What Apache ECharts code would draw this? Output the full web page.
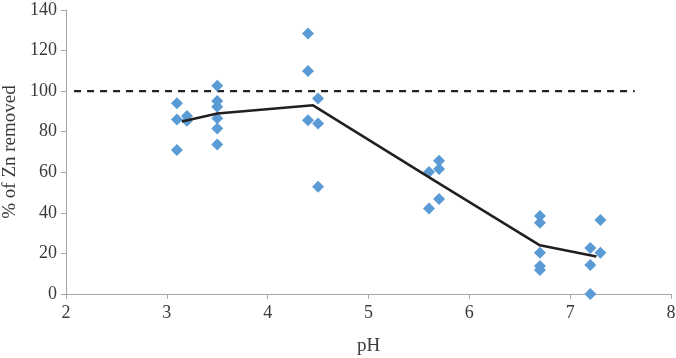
<!DOCTYPE html>
<html>
<head>
<meta charset="utf-8">
<script src="https://cdn.jsdelivr.net/npm/echarts@6/dist/echarts.min.js"></script>
<style>
  html, body { margin: 0; padding: 0; background: #fff; }
  #chart { width: 676px; height: 358px; }
</style>
</head>
<body>
<div id="chart"></div>
<script>
// measured points: [pH, % of Zn removed]
const measured = [
  [3.1, 94], [3.1, 86], [3.1, 71],
  [3.2, 87.7], [3.2, 85.4],
  [3.5, 102.6], [3.5, 95.2], [3.5, 92.3], [3.5, 86.6], [3.5, 81.6], [3.5, 73.7],
  [4.4, 128.4], [4.4, 109.9], [4.4, 85.7],
  [4.5, 96.4], [4.5, 84.1], [4.5, 52.9],
  [5.6, 60.2], [5.6, 42.2],
  [5.7, 65.7], [5.7, 61.6], [5.7, 46.8],
  [6.7, 38.4], [6.7, 35.1], [6.7, 20.3], [6.7, 13.8], [6.7, 11.8],
  [7.2, 22.7], [7.2, 14.3], [7.2, 0],
  [7.3, 36.5], [7.3, 20.3]
];
// mean trend line
const meanLine = [[3.15, 85], [3.5, 89], [4.45, 93], [5.65, 56], [6.7, 24], [7.26, 18.5]];
// 100 % reference
const refLine = [[2.08, 100], [7.64, 100]];

const axisColor = '#a6a6a6';
const textColor = '#3a3a3a';
const font = 'Liberation Serif';

const chart = echarts.init(document.getElementById('chart'));
chart.setOption({
  animation: false,
  grid: { left: 66, right: 5, top: 10, bottom: 64, outerBoundsMode: 'none', containLabel: false },
  xAxis: {
    type: 'value',
    min: 2, max: 8, interval: 1,
    name: 'pH',
    nameLocation: 'middle',
    nameGap: 43,
    nameTextStyle: { color: textColor, fontFamily: font, fontSize: 19 },
    axisLine: { show: true, lineStyle: { color: axisColor, width: 1 } },
    axisTick: { show: true, length: 5, lineStyle: { color: axisColor } },
    axisLabel: { color: textColor, fontFamily: font, fontSize: 18, margin: 10 },
    splitLine: { show: false }
  },
  yAxis: {
    type: 'value',
    min: 0, max: 140, interval: 20,
    name: '% of Zn removed',
    nameLocation: 'middle',
    nameGap: 44,
    nameTextStyle: { color: textColor, fontFamily: font, fontSize: 19 },
    axisLine: { show: true, lineStyle: { color: axisColor, width: 1 } },
    axisTick: { show: true, length: 5, lineStyle: { color: axisColor } },
    axisLabel: { color: textColor, fontFamily: font, fontSize: 18, margin: 9 },
    splitLine: { show: false }
  },
  series: [
    {
      type: 'line',
      data: refLine,
      symbol: 'none',
      lineStyle: { color: '#222', width: 2.2, type: [7, 6] },
      z: 1
    },
    {
      type: 'scatter',
      data: measured,
      symbol: 'diamond',
      symbolSize: 12,
      itemStyle: { color: '#5b9bd5', opacity: 1 },
      z: 2
    },
    {
      type: 'line',
      data: meanLine,
      symbol: 'none',
      lineStyle: { color: '#231f20', width: 2.5 },
      z: 3
    }
  ]
});
</script>
</body>
</html>
